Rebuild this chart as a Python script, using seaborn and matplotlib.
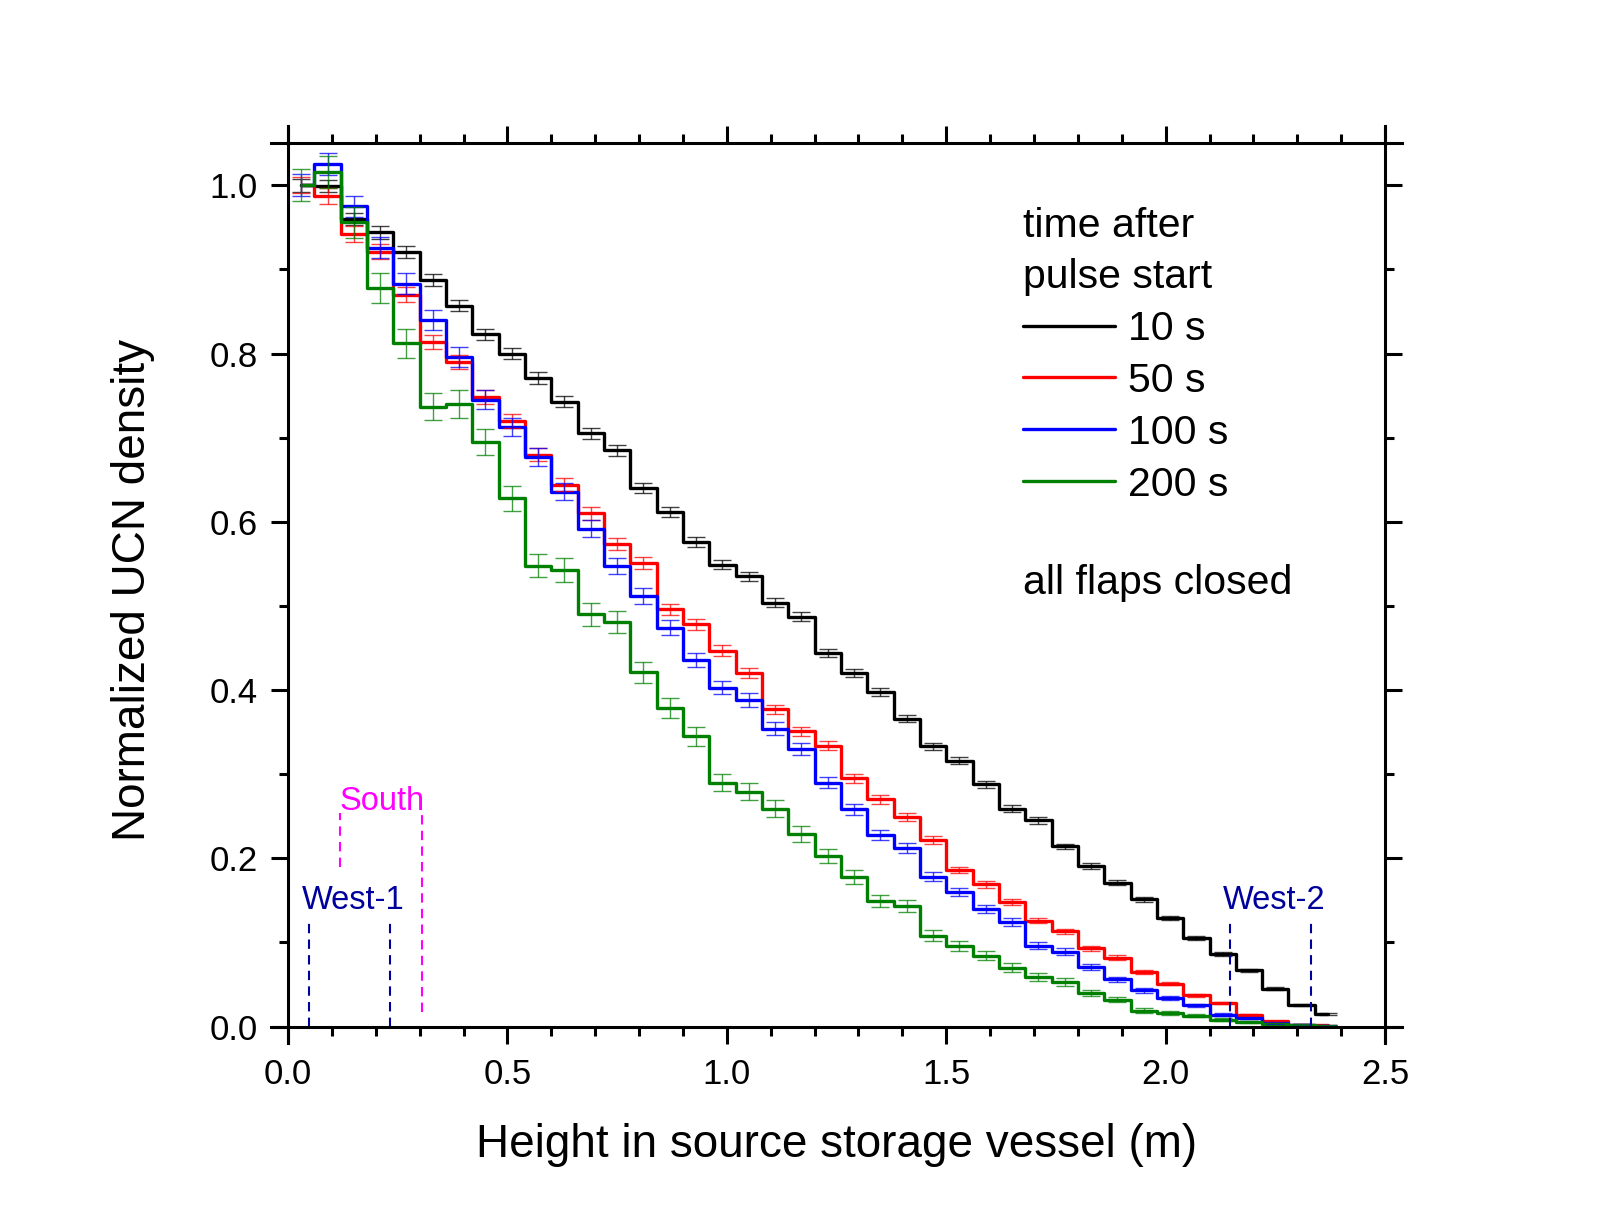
import numpy as np
import pandas as pd
import seaborn as sns
import matplotlib.pyplot as plt
from matplotlib.ticker import MultipleLocator

sns.set_theme(style="ticks")
plt.rcParams['font.family'] = ['Liberation Sans', 'DejaVu Sans']
plt.rcParams.update({"text.color": "black", "axes.labelcolor": "black",
                     "xtick.color": "black", "ytick.color": "black"})

# bin centres of the height histogram (0.06 m bins, 0 - 2.4 m)
height = np.arange(0.03, 2.4, 0.06)

dens_10 = [1.000, 0.999, 0.960, 0.944, 0.921, 0.888, 0.857, 0.823, 0.800, 0.771,
           0.743, 0.705, 0.685, 0.640, 0.612, 0.576, 0.549, 0.535, 0.504, 0.487,
           0.444, 0.420, 0.398, 0.366, 0.333, 0.316, 0.288, 0.259, 0.245, 0.214,
           0.191, 0.171, 0.151, 0.129, 0.105, 0.086, 0.067, 0.045, 0.025, 0.015]
err_10 = [0.0075, 0.0075, 0.0073, 0.0073, 0.0072, 0.0071, 0.0069, 0.0068, 0.0067, 0.0066,
          0.0065, 0.0063, 0.0062, 0.0060, 0.0059, 0.0057, 0.0056, 0.0055, 0.0053, 0.0052,
          0.0050, 0.0049, 0.0047, 0.0045, 0.0043, 0.0042, 0.0040, 0.0038, 0.0037, 0.0035,
          0.0033, 0.0031, 0.0029, 0.0027, 0.0024, 0.0022, 0.0019, 0.0016, 0.0012, 0.0009]

dens_50 = [1.000, 0.987, 0.942, 0.921, 0.870, 0.814, 0.790, 0.748, 0.720, 0.680,
           0.644, 0.610, 0.574, 0.551, 0.496, 0.478, 0.447, 0.420, 0.377, 0.351,
           0.334, 0.295, 0.270, 0.249, 0.222, 0.186, 0.169, 0.148, 0.126, 0.113,
           0.093, 0.082, 0.065, 0.051, 0.037, 0.028, 0.014, 0.006, 0.002, 0.0015]
err_50 = [0.0095, 0.0094, 0.0092, 0.0091, 0.0089, 0.0086, 0.0084, 0.0082, 0.0081, 0.0078,
          0.0076, 0.0074, 0.0072, 0.0071, 0.0067, 0.0066, 0.0064, 0.0062, 0.0058, 0.0056,
          0.0055, 0.0052, 0.0049, 0.0047, 0.0045, 0.0041, 0.0039, 0.0037, 0.0034, 0.0032,
          0.0029, 0.0027, 0.0024, 0.0021, 0.0018, 0.0016, 0.0011, 0.0007, 0.0004, 0.0004]

dens_100 = [1.000, 1.025, 0.975, 0.926, 0.883, 0.840, 0.796, 0.745, 0.713, 0.677,
            0.636, 0.592, 0.547, 0.512, 0.474, 0.436, 0.403, 0.388, 0.354, 0.330,
            0.290, 0.258, 0.228, 0.212, 0.178, 0.160, 0.140, 0.124, 0.096, 0.089,
            0.071, 0.056, 0.043, 0.034, 0.025, 0.014, 0.010, 0.004, 0.002, 0.001]
err_100 = [0.0130, 0.0132, 0.0128, 0.0125, 0.0122, 0.0119, 0.0116, 0.0112, 0.0110, 0.0107,
           0.0104, 0.0100, 0.0096, 0.0093, 0.0090, 0.0086, 0.0083, 0.0081, 0.0077, 0.0075,
           0.0070, 0.0066, 0.0062, 0.0060, 0.0055, 0.0052, 0.0049, 0.0046, 0.0040, 0.0039,
           0.0035, 0.0031, 0.0027, 0.0024, 0.0021, 0.0015, 0.0013, 0.0008, 0.0006, 0.0004]

dens_200 = [1.000, 1.016, 0.956, 0.878, 0.812, 0.737, 0.740, 0.695, 0.628, 0.548,
            0.543, 0.490, 0.481, 0.421, 0.379, 0.345, 0.290, 0.279, 0.259, 0.229,
            0.203, 0.178, 0.149, 0.143, 0.108, 0.096, 0.084, 0.070, 0.059, 0.053,
            0.040, 0.032, 0.019, 0.016, 0.013, 0.008, 0.005, 0.003, 0.002, 0.001]
err_200 = [0.0190, 0.0192, 0.0186, 0.0178, 0.0171, 0.0163, 0.0163, 0.0158, 0.0151, 0.0141,
           0.0140, 0.0133, 0.0132, 0.0123, 0.0117, 0.0112, 0.0102, 0.0100, 0.0097, 0.0091,
           0.0086, 0.0080, 0.0073, 0.0072, 0.0062, 0.0059, 0.0055, 0.0050, 0.0046, 0.0044,
           0.0038, 0.0034, 0.0026, 0.0024, 0.0022, 0.0017, 0.0013, 0.0010, 0.0008, 0.0006]

times = ["10 s", "50 s", "100 s", "200 s"]
colors = ["#000000", "#ff0000", "#0000ff", "#008000"]

# flap openings (m)
west1 = [0.047, 0.233]
west2 = [2.146, 2.332]
south = [0.118, 0.306]

frames = []
for t, d, e in zip(times, [dens_10, dens_50, dens_100, dens_200],
                   [err_10, err_50, err_100, err_200]):
    frames.append(pd.DataFrame({"height": height, "density": d, "err": e, "time": t}))
df = pd.concat(frames, ignore_index=True)

fig = plt.figure(figsize=(16.09, 12.32), dpi=100)
ax = fig.add_axes([0.1790, 0.1668, 0.6818, 0.7169])

sns.lineplot(data=df, x="height", y="density", hue="time", hue_order=times,
             palette=dict(zip(times, colors)), drawstyle="steps-mid",
             linewidth=2.4, ax=ax)

for t, c in zip(times, colors):
    sub = df[df.time == t]
    ax.errorbar(sub.height, sub.density, yerr=sub.err, fmt="none", ecolor=c,
                elinewidth=1.0, capsize=6.2, capthick=1.0, alpha=0.75)

# flap positions
navy = "#00009c"
dash = (0, (4.5, 3))
for xv in west1:
    ax.plot([xv, xv], [0, 0.127], ls=dash, lw=1.5, color=navy)
for xv in west2:
    ax.plot([xv, xv], [0, 0.129], ls=dash, lw=1.5, color=navy)
ax.plot([south[0], south[0]], [0.19, 0.254], ls=dash, lw=1.5, color="#ff00ff")
ax.plot([south[1], south[1]], [0.017, 0.254], ls=dash, lw=1.5, color="#ff00ff")
ax.text(0.032, 0.140, "West-1", color=navy, fontsize=23.5, va="baseline")
ax.text(2.131, 0.140, "West-2", color=navy, fontsize=23.5, va="baseline")
ax.text(0.118, 0.257, "South", color="#ff00ff", fontsize=23.5, va="baseline")

ax.set_xlim(0, 2.5)
ax.set_ylim(0, 1.05)
ax.xaxis.set_major_locator(MultipleLocator(0.5))
ax.xaxis.set_minor_locator(MultipleLocator(0.1))
ax.yaxis.set_major_locator(MultipleLocator(0.2))
ax.yaxis.set_minor_locator(MultipleLocator(0.1))
ax.tick_params(which="both", direction="out", top=True, right=True, width=2.2,
               color="black")
ax.tick_params(which="major", length=12)
ax.tick_params(which="minor", length=6.7)
ax.tick_params(axis="x", which="major", labelsize=25, pad=11)
ax.tick_params(axis="y", which="major", labelsize=25, pad=10)
for s in ax.spines.values():
    s.set_linewidth(2.2)
    s.set_color("black")
ax.spines["left"].set_bounds(-0.02, 1.07)
ax.spines["right"].set_bounds(-0.02, 1.07)
ax.spines["bottom"].set_bounds(-0.039, 2.539)
ax.spines["top"].set_bounds(-0.039, 2.539)

ax.set_xlabel("Height in source storage vessel (m)", fontsize=33)
ax.set_ylabel("Normalized UCN density", fontsize=33)
ax.xaxis.set_label_coords(0.5, -0.109)
ax.yaxis.set_label_coords(-0.1209, 0.494)

sns.move_legend(ax, "upper left", bbox_to_anchor=(0.655, 0.946),
                title="time after\npulse start", frameon=False, fontsize=29.5,
                title_fontsize=29.5, alignment="left", handlelength=2.24,
                handletextpad=0.32, labelspacing=0.34, borderaxespad=0)
leg = ax.get_legend()
leg.get_title().set_linespacing(1.42)
for h in leg.legend_handles:
    h.set_linewidth(2.4)
ax.text(0.670, 0.502, "all flaps closed", transform=ax.transAxes,
        fontsize=29.5, va="center")

fig.savefig("out.png", dpi=100)
